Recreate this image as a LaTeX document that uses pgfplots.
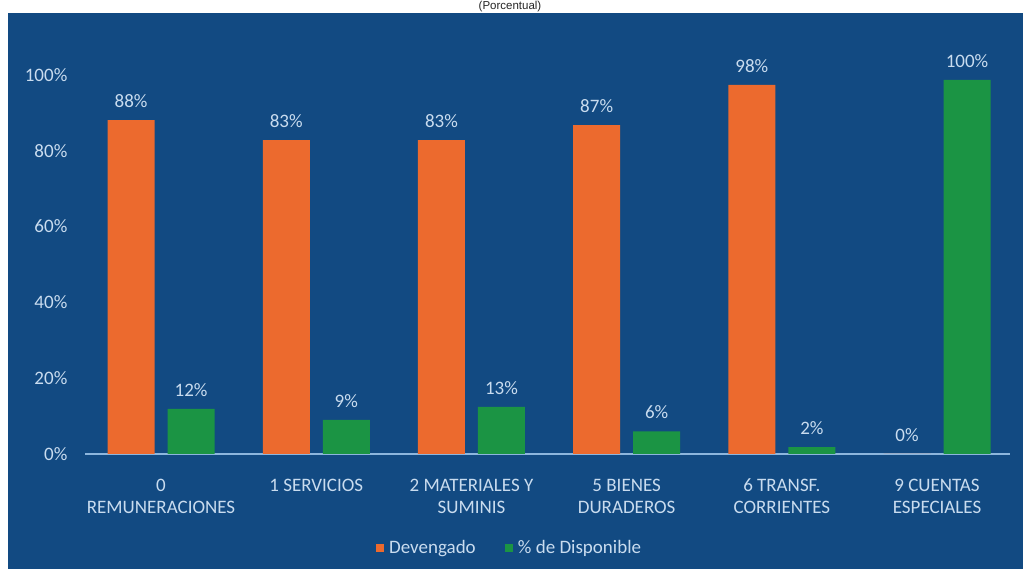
\documentclass[border=0pt]{standalone}
\usepackage{fontspec}
\setmainfont{Carlito}
\newfontfamily\arialfont{Liberation Sans}
\usepackage{pgfplots}
\pgfplotsset{compat=1.18}
\definecolor{bgblue}{HTML}{124A82}
\definecolor{barorange}{HTML}{EC6A2E}
\definecolor{bargreen}{HTML}{1B9444}
\definecolor{txt}{HTML}{C9DCEF}
\definecolor{axline}{HTML}{8DB6DD}
\begin{document}
\begin{tikzpicture}[x=1pt,y=1pt,font=\fontsize{19}{22}\selectfont]
\useasboundingbox (0,0) rectangle (1023,569);
\clip (0,0) rectangle (1023,569);
\fill[white] (0,0) rectangle (1023,569);
\fill[bgblue] (8,0) rectangle (1023,556);
\node[anchor=base, inner sep=0pt, font=\arialfont\fontsize{11.5}{13}\selectfont, text=black!85] at (510,559) {(Porcentual)};
\begin{axis}[
  at={(85pt,115pt)}, anchor=south west,
  scale only axis, width=925pt, height=379pt,
  xmin=-0.49, xmax=5.47, ymin=0, ymax=100,
  clip=false,
  axis lines=left,
  y axis line style={draw=none},
  x axis line style={draw=axline, line width=2pt, -},
  ytick style={draw=none}, xtick style={draw=none},
  /pgf/number format/assume math mode=true,
  ybar=13pt, bar width=47pt,
  xtick={0,...,5},
  xticklabels={0\\REMUNERACIONES, 1 SERVICIOS, 2 MATERIALES Y\\SUMINIS, 5 BIENES\\DURADEROS, 6 TRANSF.\\CORRIENTES, 9 CUENTAS\\ESPECIALES},
  xticklabel style={align=center, text=txt, yshift=-17pt},
  ytick={0,20,...,100},
  yticklabel={\pgfmathprintnumber{\tick}\%},
  yticklabel style={text=txt, xshift=-12pt},
  point meta=explicit symbolic,
  nodes near coords,
  every node near coord/.append style={text=txt, yshift=9pt},
  legend style={at={(0.459,-0.248)}, anchor=center, draw=none, fill=none, text=txt,
    legend columns=2, /tikz/every even column/.append style={column sep=27pt}},
]
\addplot[fill=barorange, draw=none, legend image code/.code={\fill[barorange] (0pt,-4pt) rectangle (8pt,4pt);}]
  coordinates {(0,88.1) [88\%] (1,82.8) [83\%] (2,82.8) [83\%] (3,86.8) [87\%] (4,97.4) [98\%] (5,0) [0\%]};
\addplot[fill=bargreen, draw=none, legend image code/.code={\fill[bargreen] (0pt,-4pt) rectangle (8pt,4pt);}]
  coordinates {(0,11.9) [12\%] (1,9.0) [9\%] (2,12.4) [13\%] (3,6.0) [6\%] (4,1.8) [2\%] (5,98.7) [100\%]};
\legend{\,Devengado, \,\% de Disponible}
\end{axis}
\end{tikzpicture}
\end{document}
